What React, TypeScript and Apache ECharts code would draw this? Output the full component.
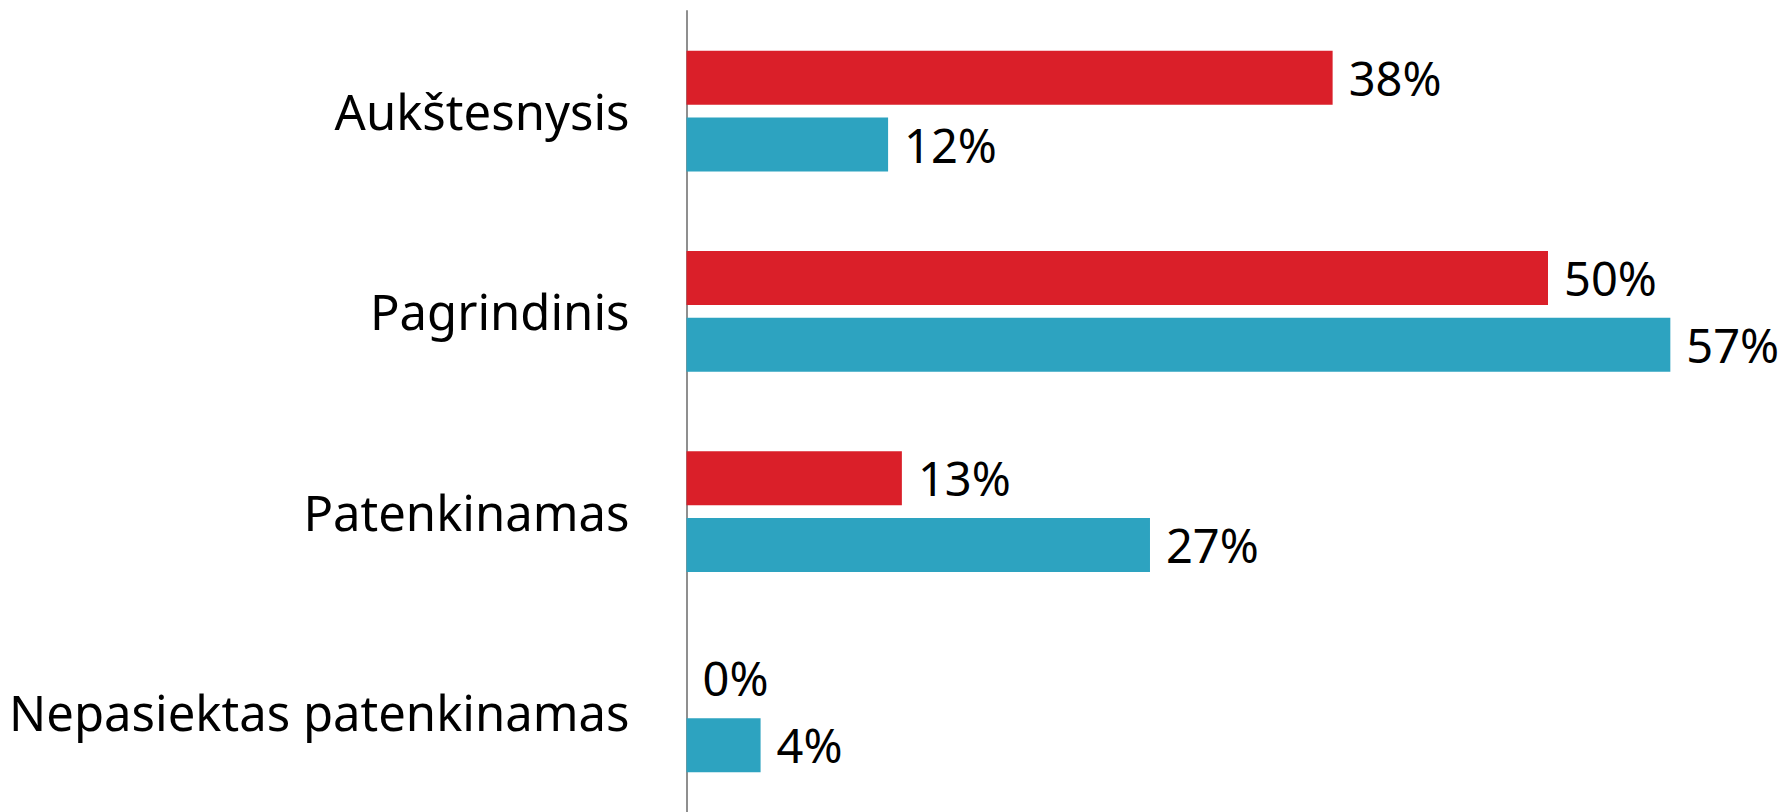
import React, { useEffect, useRef } from "react";
import * as echarts from "echarts";

const categories = [
  "Aukštesnysis",
  "Pagrindinis",
  "Patenkinamas",
  "Nepasiektas patenkinamas",
];
const redValues = [37.5, 50, 12.5, 0];
const blueValues = [11.7, 57.1, 26.9, 4.3];

const RED = "#DA1F29";
const BLUE = "#2DA3C0";
const FONT = "Noto Sans";

export default function App() {
  const ref = useRef<HTMLDivElement>(null);
  useEffect(() => {
    document.body.style.margin = "0";
    const chart = echarts.init(ref.current!, undefined, { renderer: "svg" });
    const label = {
      show: true,
      position: "right" as const,
      distance: 16,
      color: "#000",
      fontFamily: FONT,
      fontSize: 47,
      formatter: (p: any) => Math.round(p.value) + "%",
    };
    chart.setOption({
      animation: false,
      backgroundColor: "#fff",
      grid: { left: 686.5, top: 11, width: 1033.8, height: 809, containLabel: false },
      xAxis: {
        type: "value",
        min: 0,
        max: 60,
        show: false,
        splitLine: { show: false },
      },
      yAxis: {
        type: "category",
        data: categories,
        inverse: true,
        axisLine: { show: true, lineStyle: { color: "#8f8f8f", width: 2 } },
        axisTick: { show: false },
        axisLabel: {
          margin: 57,
          color: "#000",
          fontFamily: FONT,
          fontSize: 49,
        },
        splitLine: { show: false },
      },
      series: [
        {
          type: "bar",
          data: redValues,
          barWidth: 54,
          barGap: "24%",
          itemStyle: { color: RED },
          label,
        },
        {
          type: "bar",
          data: blueValues,
          barWidth: 54,
          barGap: "24%",
          itemStyle: { color: BLUE },
          label,
        },
      ],
    });
    return () => chart.dispose();
  }, []);
  return (
    <div
      ref={ref}
      style={{ position: "fixed", left: 0, top: 0, width: 1790, height: 812 }}
    />
  );
}
